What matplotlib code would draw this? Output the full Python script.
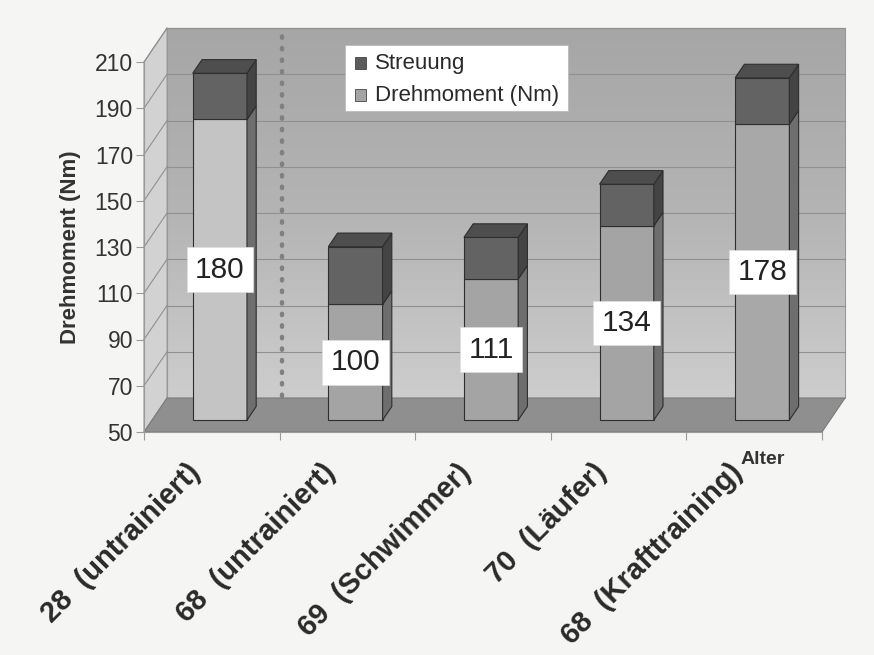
import numpy as np
import matplotlib.pyplot as plt
from matplotlib.patches import Polygon, Rectangle
from matplotlib.colors import LinearSegmentedColormap

plt.rcParams['font.family'] = ['Liberation Sans', 'DejaVu Sans']

# Daten
kategorien = ['28  (untrainiert)', '68  (untrainiert)', '69  (Schwimmer)',
              '70  (Läufer)', '68  (Krafttraining)']
drehmoment = [180, 100, 111, 134, 178]
streuung = [20, 25, 18, 18, 20]
y_ticks = [50, 70, 90, 110, 130, 150, 170, 190, 210]

Y0, Y1 = 50, 210
N = len(kategorien)
DX, DY = 0.17, 14.7          # Tiefenversatz (Rückwand)
F0, F1 = 0.35, 0.75          # Tiefe der Säulen (Anteil)
BREITE = 0.4

fig = plt.figure(figsize=(8.74, 6.55), dpi=100, facecolor='#f5f5f3')
ax = fig.add_axes([144 / 874, 223 / 655, 678 / 874, 370 / 655])
ax.patch.set_visible(False)


def poly(pts, fc, ec='none', lw=0.8, z=1):
    p = Polygon(pts, closed=True, facecolor=fc, edgecolor=ec, linewidth=lw,
                zorder=z, clip_on=False)
    ax.add_patch(p)
    return p


# Rückwand mit Verlauf
wand = poly([(DX, Y0 + DY), (N + DX, Y0 + DY), (N + DX, Y1 + DY), (DX, Y1 + DY)],
            'none', ec='#999999', z=1)
verlauf = LinearSegmentedColormap.from_list('wand', ['#cdcdcd', '#b4b4b4', '#a6a6a6'])
grad = np.linspace(0, 1, 256).reshape(-1, 1)
img = ax.imshow(grad, cmap=verlauf, aspect='auto',
                extent=(DX, N + DX, Y0 + DY, Y1 + DY), origin='lower',
                zorder=0.5, clip_on=False)
img.set_clip_path(wand)
ax.set_xlim(0, N)
ax.set_ylim(Y0, Y1)

# Seitenwand links
poly([(0, Y0), (DX, Y0 + DY), (DX, Y1 + DY), (0, Y1)], '#d2d2d2', ec='#999999', z=1)

# Gitterlinien auf Rück- und Seitenwand
for v in y_ticks[1:]:
    ax.plot([DX, N + DX], [v + DY, v + DY], color='#909090', lw=0.8, zorder=1.2,
            clip_on=False)
    ax.plot([0, DX], [v, v + DY], color='#909090', lw=0.8, zorder=1.2, clip_on=False)

# Boden
poly([(0, Y0), (N, Y0), (N + DX, Y0 + DY), (DX, Y0 + DY)], '#8f8f8f', ec='#7a7a7a', z=1.5)

# gepunktete Trennlinie
ax.plot([1.02, 1.02], [Y0 + DY + 1, Y1 + DY - 2], color='#808080', lw=3.2,
        ls=(0, (0.3, 2.3)), dash_capstyle='round', zorder=1.3, clip_on=False)


def quader(x0, x1, u, o, front, seite, oben, z):
    ox, oy = F0 * DX, F0 * DY
    tx, ty = (F1 - F0) * DX, (F1 - F0) * DY
    a, b = x0 + ox, x1 + ox
    lo, hi = u + oy, o + oy
    poly([(a, lo), (b, lo), (b, hi), (a, hi)], front, ec='#2e2e2e', z=z)
    poly([(b, lo), (b + tx, lo + ty), (b + tx, hi + ty), (b, hi)], seite,
         ec='#2e2e2e', z=z)
    if oben:
        poly([(a, hi), (b, hi), (b + tx, hi + ty), (a + tx, hi + ty)], oben,
             ec='#2e2e2e', z=z)


hell = ['#c4c4c4', '#a4a4a4', '#a4a4a4', '#a4a4a4', '#a8a8a8']
for i, (d, s) in enumerate(zip(drehmoment, streuung)):
    x0 = i + 0.5 - BREITE / 2
    x1 = i + 0.5 + BREITE / 2
    quader(x0, x1, Y0, d, hell[i], '#6e6e6e', None, 3 + i * 0.1)
    quader(x0, x1, d, d + s, '#636363', '#444444', '#4e4e4e', 3.05 + i * 0.1)
    ax.text(i + 0.5 + F0 * DX, (Y0 + d) / 2 + F0 * DY, str(d), fontsize=21.5,
            color='#222222', ha='center', va='center', zorder=5,
            bbox=dict(boxstyle='square,pad=0.28', fc='white', ec='#dddddd', lw=0.5))

# Achsen
for sp in ['top', 'right']:
    ax.spines[sp].set_visible(False)
for sp in ['left', 'bottom']:
    ax.spines[sp].set_color('#9a9a9a')
    ax.spines[sp].set_zorder(2)
ax.set_yticks(y_ticks)
ax.set_yticklabels([str(v) for v in y_ticks], fontsize=16.5, color='#333333')
ax.set_xticks(range(N + 1))
ax.set_xticklabels([])
ax.tick_params(axis='both', which='major', color='#9a9a9a', length=6)
ax.tick_params(axis='y', pad=2)

# Kategorien schräg unter der Achse
for i, name in enumerate(kategorien):
    ax.annotate(name, xy=(i + 0.5, Y0), xytext=(-16, -36),
                textcoords='offset pixels', rotation=45, rotation_mode='anchor',
                ha='right', va='center', fontsize=21, fontweight='bold',
                color='#2a2a2a', annotation_clip=False)

ax.set_ylabel('Drehmoment (Nm)', fontsize=16, fontweight='bold', color='#333333',
              labelpad=10)
ax.text(N - 0.44, Y0 - 12, 'Alter', fontsize=14, fontweight='bold', color='#333333',
        ha='center', va='center')

# Legende
lx, ly = 1.48, 217
ax.add_patch(Rectangle((lx, ly - 28), 1.645, 28.5, fc='white', ec='#bbbbbb', lw=0.6,
                       zorder=6, clip_on=False))
for k, (txt, col) in enumerate([('Streuung', '#5c5c5c'),
                                ('Drehmoment (Nm)', '#a4a4a4')]):
    yy = ly - 7.5 - k * 13.8
    ax.add_patch(Rectangle((lx + 0.075, yy - 2.6), 0.082, 5.2, fc=col, ec='#444444',
                           lw=0.6, zorder=7, clip_on=False))
    ax.text(lx + 0.22, yy, txt, fontsize=16, color='#2a2a2a', va='center',
            ha='left', zorder=7)

fig.savefig('out.png', dpi=100, facecolor=fig.get_facecolor())
